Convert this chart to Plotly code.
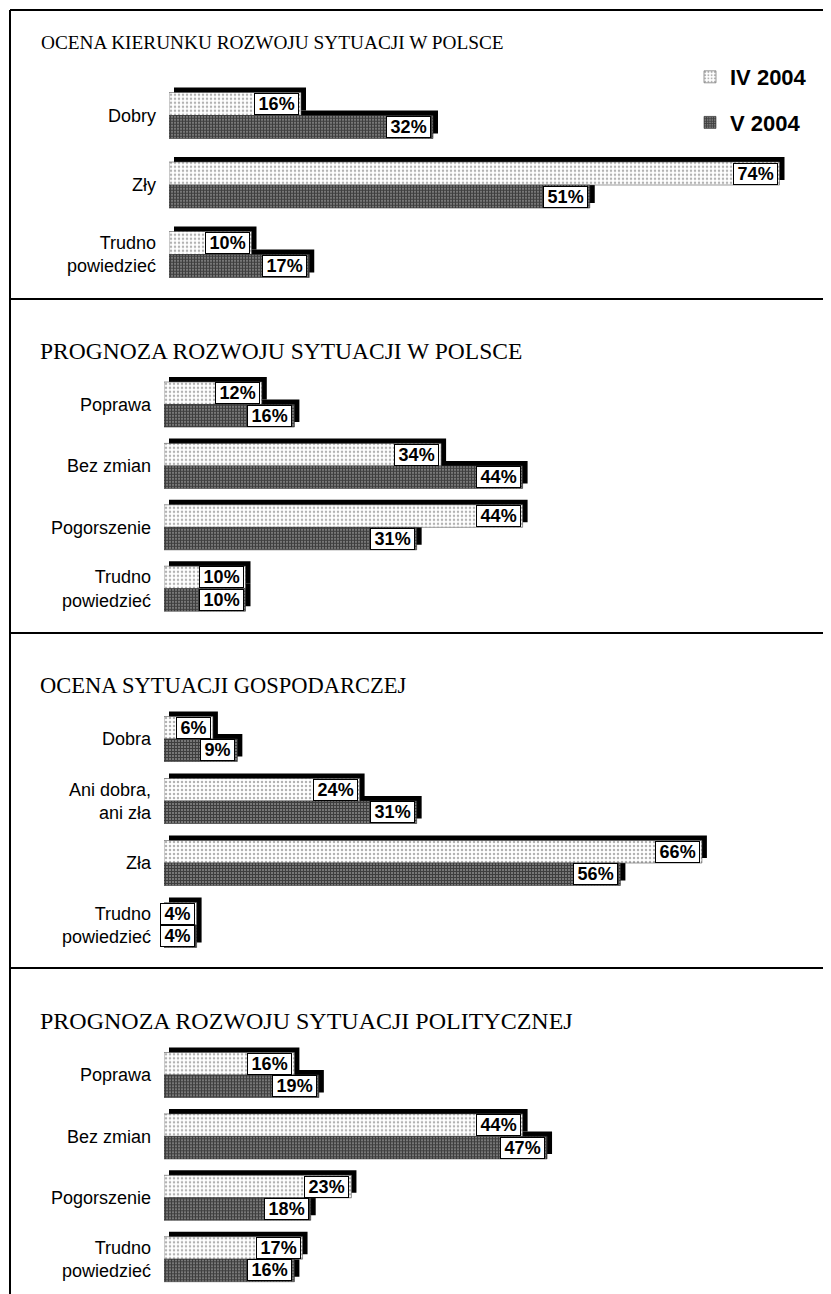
import plotly.graph_objects as go

# ---------------- data ----------------
series_names = ["IV 2004", "V 2004"]

titles = [
    "OCENA KIERUNKU ROZWOJU SYTUACJI W POLSCE",
    "PROGNOZA ROZWOJU SYTUACJI W POLSCE",
    "OCENA SYTUACJI GOSPODARCZEJ",
    "PROGNOZA ROZWOJU SYTUACJI POLITYCZNEJ",
]

cats1 = ["Dobry", "Zły", "Trudno<br>powiedzieć"]
iv1 = [16, 74, 10]
v1 = [32, 51, 17]

cats2 = ["Poprawa", "Bez zmian", "Pogorszenie", "Trudno<br>powiedzieć"]
iv2 = [12, 34, 44, 10]
v2 = [16, 44, 31, 10]

cats3 = ["Dobra", "Ani dobra,<br>ani zła", "Zła", "Trudno<br>powiedzieć"]
iv3 = [6, 24, 66, 4]
v3 = [9, 31, 56, 4]

cats4 = ["Poprawa", "Bez zmian", "Pogorszenie", "Trudno<br>powiedzieć"]
iv4 = [16, 44, 23, 17]
v4 = [19, 47, 18, 16]

# ---------------- layout geometry (page pixels) ----------------
PAGE_W, PAGE_H = 831, 1294
OFF = 8                       # default body margin of the html page
W, H = PAGE_W - OFF, PAGE_H - OFF


def xp(px):
    return (px - OFF) / W


def yp(py):
    return 1 - (py - OFF) / H


geom = [
    dict(x0=169, pxper=8.25, c0=115.5, s=69.5, bh=23, ty=43, tx=39, ts=19.3),
    dict(x0=164, pxper=8.15, c0=404.5, s=61.4, bh=22.5, ty=351, tx=38, ts=23.5),
    dict(x0=164, pxper=8.15, c0=739, s=62.0, bh=22.5, ty=685, tx=38, ts=22.5),
    dict(x0=164, pxper=8.15, c0=1075, s=61.4, bh=22.5, ty=1021, tx=38, ts=24),
]
panels = [(cats1, iv1, v1), (cats2, iv2, v2), (cats3, iv3, v3), (cats4, iv4, v4)]

SHADOW = 5  # px
LABEL_FONT = "Liberation Sans, Arial, sans-serif"
TITLE_FONT = "Liberation Serif, Times New Roman, serif"
THIN = "\u2009"

fig = go.Figure()
annotations = []
layout_axes = {}

pattern_iv = dict(shape=".", size=4, solidity=0.3, fgcolor="#666666", bgcolor="white")
pattern_v = dict(shape="+", size=3, solidity=0.62, fgcolor="#000000", bgcolor="#7c7c7c")

for k, ((cats, a, b), g) in enumerate(zip(panels, geom)):
    n = len(cats)
    idx = k + 1
    xa = "x" if idx == 1 else f"x{idx}"
    ya = "y" if idx == 1 else f"y{idx}"
    s = g["s"]
    bw = g["bh"] / s
    du = SHADOW / s
    dx = SHADOW / g["pxper"]
    ypos = list(range(n))

    # 3-D shadows (black, shifted up/right)
    for vals, off in ((a, -bw - du), (b, -du)):
        fig.add_trace(go.Bar(
            y=ypos, x=vals, base=dx, orientation="h", offset=off, width=bw,
            marker=dict(color="black", line=dict(width=0)),
            showlegend=False, hoverinfo="skip", xaxis=xa, yaxis=ya))
    # bars
    fig.add_trace(go.Bar(
        y=ypos, x=a, orientation="h", offset=-bw, width=bw, name=series_names[0],
        marker=dict(color="white", pattern=pattern_iv, line=dict(width=0.6, color="#555")),
        showlegend=(k == 0), legendgroup="iv", xaxis=xa, yaxis=ya, hoverinfo="skip"))
    fig.add_trace(go.Bar(
        y=ypos, x=b, orientation="h", offset=0, width=bw, name=series_names[1],
        marker=dict(color="#444", pattern=pattern_v, line=dict(width=0.6, color="#333")),
        showlegend=(k == 0), legendgroup="v", xaxis=xa, yaxis=ya, hoverinfo="skip"))

    top = g["c0"] - s / 2
    bottom = g["c0"] + (n - 1) * s + s / 2
    layout_axes["xaxis" if idx == 1 else f"xaxis{idx}"] = dict(
        domain=[xp(g["x0"]), 1], range=[0, (PAGE_W - g["x0"]) / g["pxper"]],
        visible=False, anchor=ya, fixedrange=True)
    layout_axes["yaxis" if idx == 1 else f"yaxis{idx}"] = dict(
        domain=[yp(bottom), yp(top)], range=[n - 0.5, -0.5],
        tickvals=ypos, ticktext=cats, showgrid=False, zeroline=False, showline=False,
        ticks="", ticklabelstandoff=12, anchor=xa,
        tickfont=dict(family=LABEL_FONT, size=18, color="black"), fixedrange=True)

    # value labels in white boxes
    for vals, yy in ((a, -bw / 2), (b, bw / 2)):
        for i, v in enumerate(vals):
            annotations.append(dict(
                x=v, y=i + yy, xref=xa, yref=ya, text=f"<b>{THIN}{v}%{THIN}</b>",
                showarrow=False, xanchor="right", yanchor="middle", xshift=-2,
                font=dict(family=LABEL_FONT, size=18, color="black"),
                bgcolor="white", bordercolor="black", borderwidth=1, borderpad=0))

    # panel title
    annotations.append(dict(
        x=xp(g["tx"]), y=yp(g["ty"]), xref="paper", yref="paper", text=titles[k],
        showarrow=False, xanchor="left", yanchor="middle",
        font=dict(family=TITLE_FONT, size=g["ts"], color="black")))

# frame lines
shapes = []
lw = 2
FRAME_TOP, FRAME_LEFT = 10, 10
shapes.append(dict(type="line", xref="paper", yref="paper", x0=xp(FRAME_LEFT), x1=1,
                   y0=yp(FRAME_TOP), y1=yp(FRAME_TOP), line=dict(color="black", width=lw)))
shapes.append(dict(type="line", xref="paper", yref="paper", x0=xp(FRAME_LEFT), x1=xp(FRAME_LEFT),
                   y0=yp(FRAME_TOP), y1=0, line=dict(color="black", width=lw)))
for sy in (299, 633, 968):
    shapes.append(dict(type="line", xref="paper", yref="paper", x0=xp(FRAME_LEFT), x1=1,
                       y0=yp(sy), y1=yp(sy), line=dict(color="black", width=lw)))

fig.update_layout(
    width=W, height=H, margin=dict(l=0, r=0, t=0, b=0),
    paper_bgcolor="white", plot_bgcolor="rgba(0,0,0,0)",
    barmode="overlay", annotations=annotations, shapes=shapes,
    legend=dict(x=xp(690), y=yp(56), xanchor="left", yanchor="top",
                font=dict(family=LABEL_FONT, size=22, color="black", weight="bold"),
                tracegroupgap=14, bgcolor="rgba(0,0,0,0)"),
    **layout_axes,
)

fig.write_html("out.html")
